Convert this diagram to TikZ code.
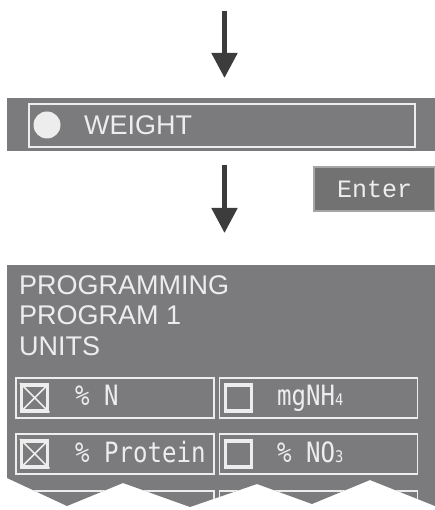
\documentclass[tikz,border=0pt]{standalone}
\usepackage{fontspec}
\setmainfont{Liberation Sans}
\newfontfamily\lcdfont[FakeStretch=0.86]{DejaVu Sans Mono}
\newfontfamily\keyfont{Liberation Mono}
\usetikzlibrary{arrows.meta, positioning}

\definecolor{panel}{HTML}{7B7B7E}
\definecolor{lcdwhite}{HTML}{EDEDED}
\definecolor{keygray}{HTML}{727272}
\definecolor{keyedge}{HTML}{A6A6A6}
\definecolor{arrowgray}{HTML}{3C3C3C}

\begin{document}
\begin{tikzpicture}[x=1pt, y=-1pt, node distance = 11pt and 5pt]
        \tikzstyle{bar} = [fill=panel, inner sep=0pt, anchor=north west, minimum width=428pt, minimum height=53pt]
        \tikzstyle{unitbox} = [draw=lcdwhite, line width=1.6pt, inner sep=0pt, anchor=north west, minimum width=198pt, minimum height=40pt]
        \tikzstyle{checkbox} = [draw=lcdwhite, line width=3.4pt, inner sep=0pt, minimum size=26pt]
        \tikzstyle{cross} = [draw=lcdwhite, line width=1.6pt, shorten <=3pt, shorten >=3pt]
        \tikzstyle{lcdtext} = [text=lcdwhite, inner sep=0pt, font=\fontsize{27}{30}\selectfont]
        \tikzstyle{unittext} = [lcdtext, anchor=base west, font=\lcdfont\fontsize{28}{30}\selectfont]
        \tikzstyle{flow} = [-{Triangle[width=25pt, length=25pt]}, line width=5pt, draw=arrowgray]
        \useasboundingbox (0,0) rectangle (435,510);

        % weight line
        \node[bar] (weight) at (7,98) {};
        \node[draw=lcdwhite, line width=1.6pt, minimum width=386pt, minimum height=43pt] (wframe) at (222,125.5) {};
        \node[circle, fill=lcdwhite, minimum size=27pt, inner sep=0pt] (dot) at (47,125) {};
        \node[lcdtext, anchor=west] (wtext) at (84,125) {WEIGHT};

        % enter key
        \node[fill=keygray, draw=keyedge, line width=2pt, minimum width=121pt, minimum height=44pt,
              text=lcdwhite, font=\keyfont\fontsize{25}{25}\selectfont] (enter) at (374.5,189.5) {Enter};

        % arrows
        \coordinate (a1) at (224.5,11);
        \coordinate (a2) at (224.5,165);
        \coordinate (menu) at (224.5,265);
        \draw[flow, shorten >=20pt] (a1) -- (a1 |- weight.north);
        \draw[flow, shorten >=32pt] (a2) -- (menu);

        % programming screen, torn off at the bottom
        \fill[panel] (7,265) -- (435,265) -- (435,506) -- (370,480) -- (312,504) -- (257,484)
              -- (190,507) -- (123,483) -- (67,506) -- (7,478) -- cycle;
        \node[lcdtext, anchor=north west] (prog) at (19,275) {PROGRAMMING};
        \node[lcdtext, below=11pt of prog.south west, anchor=north west] (prog1) {PROGRAM 1};
        \node[lcdtext, below=11pt of prog1.south west, anchor=north west] (units) {UNITS};

        \node[unitbox] (u1) at (15,377) {};
        \node[unitbox, right=4pt of u1.north east, anchor=north west] (u2) {};
        \node[unitbox] (u3) at (15,433) {};
        \node[unitbox, right=4pt of u3.north east, anchor=north west] (u4) {};

        \node[checkbox, right=of u1.west] (c1) {};
        \node[checkbox, right=of u2.west] (c2) {};
        \node[checkbox, right=of u3.west] (c3) {};
        \node[checkbox, right=of u4.west] (c4) {};
        \draw[cross] (c1.north west) -- (c1.south east) (c1.north east) -- (c1.south west);
        \draw[cross] (c3.north west) -- (c3.south east) (c3.north east) -- (c3.south west);

        \node[unittext] (pn) at (75,405) {\% N};
        \node[unittext] (nh4) at (277,405) {mgNH{\fontsize{16}{16}\selectfont 4}};
        \node[unittext] (prot) at (75,462) {\% Protein};
        \node[unittext] (no3) at (277,462) {\% NO{\fontsize{16}{16}\selectfont 3}};

        % next row, mostly torn away
        \begin{scope}
          \clip (7,265) -- (435,265) -- (435,506) -- (370,480) -- (312,504) -- (257,484)
                -- (190,507) -- (123,483) -- (67,506) -- (7,478) -- cycle;
          \node[unitbox] (u5) at (15,490) {};
          \node[unitbox, right=4pt of u5.north east, anchor=north west] (u6) {};
        \end{scope}
      \end{tikzpicture}
\end{document}
